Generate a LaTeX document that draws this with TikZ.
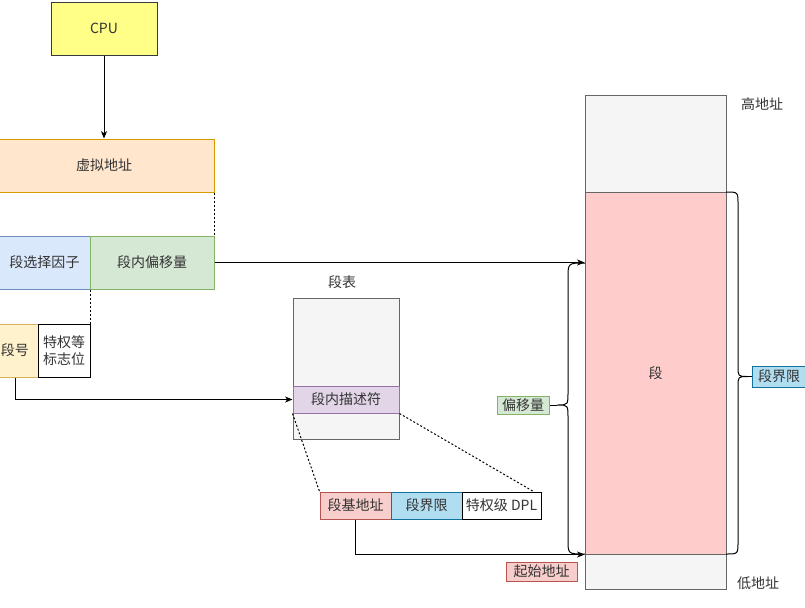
\documentclass[tikz,border=0pt]{standalone}
\usepackage{fontspec}
\setmainfont{Noto Sans CJK SC}
\usepackage{xcolor}
\usetikzlibrary{arrows.meta}
\definecolor{cpufill}{HTML}{FFFF88}
\definecolor{cpuline}{HTML}{36393D}
\definecolor{orgfill}{HTML}{FFE6CC}
\definecolor{orgline}{HTML}{D79B00}
\definecolor{bluefill}{HTML}{DAE8FC}
\definecolor{blueline}{HTML}{6C8EBF}
\definecolor{grnfill}{HTML}{D5E8D4}
\definecolor{grnline}{HTML}{82B366}
\definecolor{ylwfill}{HTML}{FFF2CC}
\definecolor{ylwline}{HTML}{D6B656}
\definecolor{greyfill}{HTML}{F5F5F5}
\definecolor{greyline}{HTML}{666666}
\definecolor{purfill}{HTML}{E1D5E7}
\definecolor{purline}{HTML}{9673A6}
\definecolor{redfill}{HTML}{F8CECC}
\definecolor{redline}{HTML}{B85450}
\definecolor{segfill}{HTML}{FFCCCC}
\definecolor{cyanfill}{HTML}{B1DDF0}
\definecolor{cyanline}{HTML}{10739E}
\definecolor{txt}{HTML}{333333}
\tikzset{
  blk/.style={draw, line width=0.75pt, inner sep=0pt, align=center,
    font=\fontsize{10.5}{12.5}\selectfont, text=txt},
  sz/.style 2 args={minimum width=#1*0.75pt, minimum height=#2*0.75pt},
  lab/.style={inner sep=0pt, font=\fontsize{10.5}{12.5}\selectfont, text=txt},
  arr/.style={-{Stealth[length=5.5pt,width=4.5pt,inset=1.5pt]}, line width=0.75pt},
  dots/.style={line width=0.75pt, dash pattern=on 1.5pt off 1.5pt},
  brc/.style={line width=0.75pt}
}
\begin{document}
\begin{tikzpicture}[x=0.75pt, y=-0.75pt]
  \useasboundingbox (0,0) rectangle (805,607);

  % address path
  \node[blk, sz={106}{53}, fill=cpufill, draw=cpuline] (cpu) at (104,28.5) {CPU};
  \node[blk, sz={220}{53}, fill=orgfill, draw=orgline] (va) at (104,165.5) {虚拟地址};
  \node[blk, sz={91}{53}, fill=bluefill, draw=blueline] (sel) at (44.5,262.5) {段选择因子};
  \node[blk, sz={124}{53}, fill=grnfill, draw=grnline] (off) at (152,262.5) {段内偏移量};
  \node[blk, sz={46}{53}, fill=ylwfill, draw=ylwline] (num) at (15,350.5) {段号};
  \node[blk, sz={52}{53}, fill=white, draw=black] (flag) at (64,350.5) {特权等\\标志位};

  % segment table
  \node[lab] (tabname) at (342,282) {段表};
  \node[blk, sz={106}{141}, fill=greyfill, draw=greyline] (tab) at (346,368.5) {};
  \node[blk, sz={106}{27}, fill=purfill, draw=purline] (desc) at (346,399.5) {段内描述符};

  % descriptor fields
  \node[blk, sz={71}{27}, fill=redfill, draw=redline] (base) at (355.5,505.5) {段基地址};
  \node[blk, sz={71}{27}, fill=cyanfill, draw=cyanline] (limit) at (426.5,505.5) {段界限};
  \node[blk, sz={79}{27}, fill=white, draw=black] (dpl) at (501.5,505.5) {特权级 DPL};

  % memory
  \node[blk, sz={141}{97}, fill=greyfill, draw=greyline] (memtop) at (655.5,143.5) {};
  \node[blk, sz={141}{35}, fill=greyfill, draw=greyline] (membot) at (655.5,571.5) {};
  \node[blk, sz={141}{362}, fill=segfill, draw=greyline] (seg) at (655.5,373) {段};
  \node[lab] (high) at (762,104) {高地址};
  \node[lab] (low) at (758,583) {低地址};
  \node[blk, sz={71}{19}, fill=redfill, draw=redline] (start) at (541.5,571.5) {起始地址};
  \node[blk, sz={52}{18}, fill=grnfill, draw=grnline] (offlab) at (523,405) {偏移量};
  \node[blk, sz={53}{21}, fill=cyanfill, draw=cyanline] (limlab) at (779,376.5) {段界限};

  % arrows
  \draw[arr] (cpu.south) -- (va.north);
  \draw[arr] (num.south) |- (desc.west);
  \draw[arr] (off.east) -- (off.east -| seg.west);
  \draw[arr] (base.south) |- (seg.south west);

  % dotted guides
  \draw[dots] (va.south east) -- (off.north east);
  \draw[dots] (sel.south east) -- (flag.north east);
  \draw[dots] (desc.south west) -- (base.north west);
  \draw[dots] (desc.south east) -- ([xshift=-6pt]dpl.north east);

  % braces
  \coordinate (ltip) at (557,405);
  \coordinate (rtip) at (748,376.5);
  \draw[brc] (585,263) .. controls (568,263) .. (568,278) -- (568,392)
    .. controls (568,405) .. (ltip) .. controls (568,405) .. (568,418)
    -- (568,540) .. controls (568,554) .. (585,554);
  \draw[brc] (ltip) -- (offlab.east);
  \draw[brc] (726,192) .. controls (738,192) .. (738,204) -- (738,366)
    .. controls (738,376.5) .. (rtip) .. controls (738,376.5) .. (738,387)
    -- (738,542) .. controls (738,554) .. (726,554);
  \draw[brc] (rtip) -- (limlab.west);
\end{tikzpicture}
\end{document}
